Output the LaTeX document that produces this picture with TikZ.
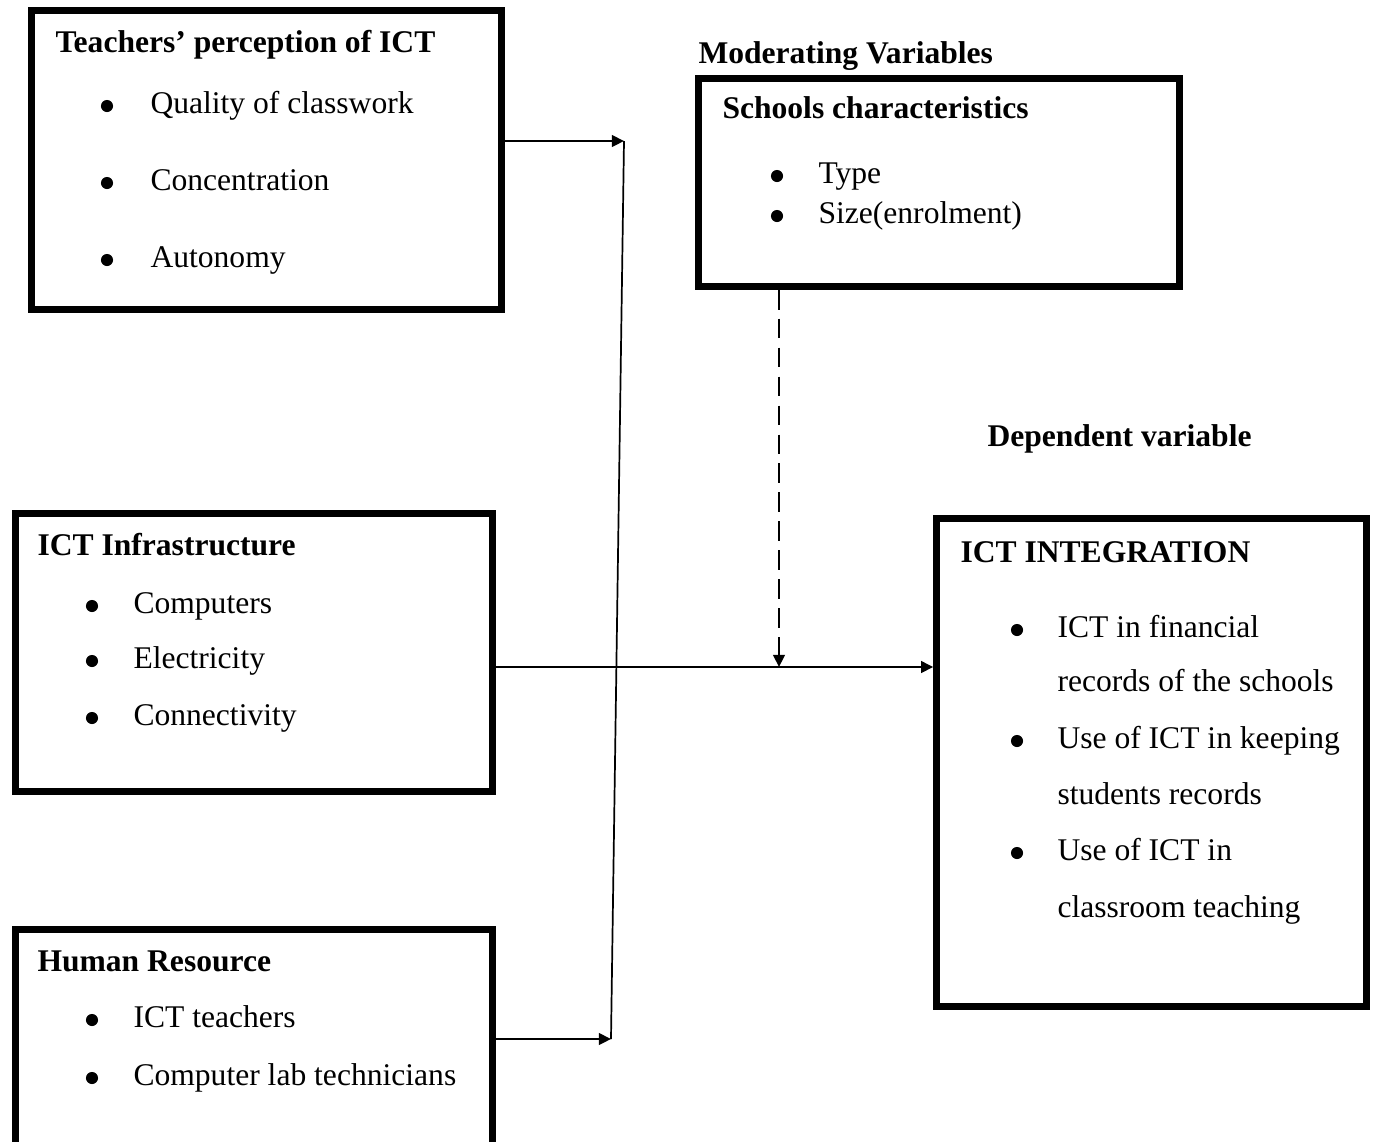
\documentclass[tikz,border=0pt]{standalone}
\usepackage{fontspec}
\setmainfont{Liberation Serif}
\usetikzlibrary{%
  positioning,
  fit,
  arrows.meta,
}

\begin{document}
\begin{tikzpicture}[
    x=0.38pt, y=-0.38pt,
    every node/.style={font=\fontsize{12pt}{14pt}\selectfont},
    frame/.style={
      % The shape:
      rectangle,
      inner sep=0pt,
      % The border:
      draw=black,
      line width=2.5pt,
    },
    heading/.style={anchor=base west, inner sep=0pt,
      font=\fontsize{12pt}{14pt}\selectfont\bfseries},
    item/.style={anchor=base west, inner sep=0pt},
    dot/.style={circle, fill=black, inner sep=0pt, minimum size=4.6pt},
    flow/.style={-{Triangle[length=4.6pt,width=4.4pt]}, line width=0.9pt},
    joinline/.style={line width=0.65pt},
    moderates/.style={dash pattern=on 7.5pt off 3.5pt},
  ]

    \useasboundingbox (0,0) rectangle (1374,1141);
    \clip (0,0) rectangle (1374,1141);

    % the frames
    \node[frame, fit={(31.5,10.5) (501.5,309.5)}] (teach) {};
    \node[frame, fit={(698.5,78.5) (1179.5,286.5)}] (school) {};
    \node[frame, fit={(15.5,513.5) (492.5,791.5)}] (infra) {};
    \node[frame, fit={(15.5,929.5) (492.5,1180)}] (hr) {};
    \node[frame, fit={(936.5,518.5) (1366.5,1006.5)}] (integ) {};

    % the headings
    \node[heading] (moderating) at (698,63) {Moderating Variables};
    \node[heading] (dependent) at (987,446) {Dependent variable};
    \node[heading] (teach-title) at (55,52) {Teachers’ perception of ICT};
    \node[heading] (school-title) at (722,118) {Schools characteristics};
    \node[heading] (infra-title) at (37,555) {ICT Infrastructure};
    \node[heading] (hr-title) at (37,971) {Human Resource};
    \node[heading] (integ-title) at (960,562) {ICT INTEGRATION};

    % the lists
    \foreach \y/\txt [count=\i] in {113/Quality of classwork,
        190/Concentration, 267/Autonomy} {
      \node[dot] (teach-dot\i) at (107,\y-7) {};
      \node[item] (teach-item\i) at (150,\y) {\txt};
    }
    \foreach \y/\txt [count=\i] in {183/Type, 223/Size(enrolment)} {
      \node[dot] (school-dot\i) at (777,\y-7) {};
      \node[item] (school-item\i) at (818,\y) {\txt};
    }
    \foreach \y/\txt [count=\i] in {613/Computers, 668/Electricity,
        725/Connectivity} {
      \node[dot] (infra-dot\i) at (92,\y-7) {};
      \node[item] (infra-item\i) at (133,\y) {\txt};
    }
    \foreach \y/\txt [count=\i] in {1027/ICT teachers,
        1085/Computer lab technicians} {
      \node[dot] (hr-dot\i) at (92,\y-7) {};
      \node[item] (hr-item\i) at (133,\y) {\txt};
    }
    \foreach \y/\txt [count=\i] in {637/ICT in financial,
        691/records of the schools, 748/Use of ICT in keeping,
        804/students records, 860/Use of ICT in,
        917/classroom teaching} {
      \node[item] (integ-item\i) at (1057,\y) {\txt};
    }
    \foreach \y [count=\i] in {637, 748, 860} {
      \node[dot] (integ-dot\i) at (1017,\y-7) {};
    }

    % the connectors
    \coordinate (split) at (624,141);
    \coordinate (merge) at (611,1039);
    \coordinate (moderate) at (779,667);

    \draw[flow] (teach.east |- split) -- (split);
    \draw[joinline] (split) -- (merge);
    \draw[flow] (hr.east |- merge) -- (merge);
    \draw[flow] (infra.east |- moderate) -- (integ.west |- moderate);
    \draw[flow, moderates] (school.south -| moderate) -- (moderate);
  \end{tikzpicture}
\end{document}
